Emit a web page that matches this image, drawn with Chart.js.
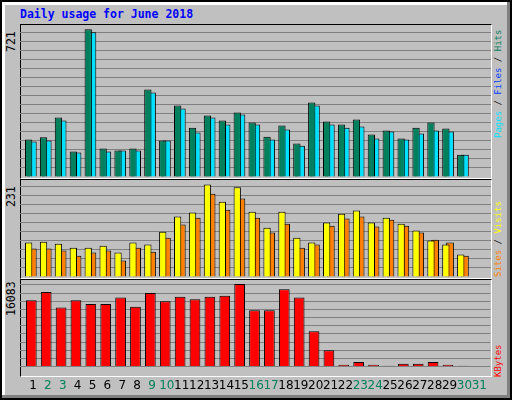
<!DOCTYPE html>
<html>
<head>
<meta charset="utf-8">
<script src="https://cdn.jsdelivr.net/npm/chart.js@4/dist/chart.umd.min.js"></script>
<style>
  body { margin: 0; background: #fff; }
  #frame {
    position: absolute; left: 0; top: 0; width: 508px; height: 396px;
    background: #c0c0c0; border: 2px solid #000;
    box-shadow: inset -3px -3px 0 #808080, inset 3px 3px 0 #fff;
  }
  .panel { position: absolute; left: 20px; width: 471px; }
  .plotbg { position: absolute; left: 20px; width: 470px; background: #c0c0c0;
    border-top: 1px solid #000; border-left: 1px solid #000;
    border-right: 1px solid #fff; border-bottom: 1px solid #fff; }
  .mono { font-family: "DejaVu Sans Mono", monospace; font-size: 11.5px; position: absolute; white-space: nowrap; }
  .side { font-size: 9px; left: 493px; }
  .rot { transform: rotate(-90deg); transform-origin: left top; }
  #title { left: 20px; top: 7px; color: #0000ff; font-weight: bold; }
</style>
</head>
<body>
<div id="frame"></div>
<div class="plotbg" style="top:24px;height:153px"></div>
<div class="plotbg" style="top:179px;height:98px"></div>
<div class="plotbg" style="top:279px;height:96px"></div>
<div id="title" class="mono">Daily usage for June 2018</div>

<div class="panel" style="top:25px;height:152px"><canvas id="c1"></canvas></div>
<div class="panel" style="top:180px;height:97px"><canvas id="c2"></canvas></div>
<div class="panel" style="top:280px;height:117px"><canvas id="c3"></canvas></div>

<div id="lab1" class="mono rot" style="left:4px;top:52px;color:#000"></div>
<div id="lab2" class="mono rot" style="left:4px;top:207px;color:#000"></div>
<div id="lab3" class="mono rot" style="left:4px;top:316px;color:#000"></div>

<div class="mono rot side" style="top:138px"><span style="color:#00e0ff">Pages</span> / <span style="color:#0040ff">Files</span> / <span style="color:#00805c">Hits</span></div>
<div class="mono rot side" style="top:277px"><span style="color:#ff8000">Sites</span> / <span style="color:#ffff00">Visits</span></div>
<div class="mono rot side" style="top:377px;color:#ff0000">KBytes</div>

<script>
const days = [1,2,3,4,5,6,7,8,9,10,11,12,13,14,15,16,17,18,19,20,21,22,23,24,25,26,27,28,29,30];
const dayLabels = ["1","2","3","4","5","6","7","8","9","10","11","12","13","14","15","16","17","18","19","20","21","22","23","24","25","26","27","28","29","30","31"];
const weekendDays = [2,3,9,10,16,17,23,24,30,31];

const hits = [183,194,290,124,721,139,129,139,427,178,349,241,300,276,315,266,197,251,163,364,271,256,281,207,227,188,241,266,237,109];
const files = [173,178,276,119,706,124,129,129,413,178,334,217,290,256,305,256,183,232,153,349,256,241,246,188,222,183,212,227,222,109];
const pages = [119,134,114,109,104,114,104,119,124,148,192,202,285,251,271,183,144,207,129,241,148,197,246,163,173,163,178,158,80,51];
const sites = [86,88,83,73,73,78,61,86,81,113,151,161,231,188,224,163,123,163,98,86,136,158,166,136,148,133,116,91,81,56];
const visits = [71,71,66,53,61,66,41,73,63,98,131,148,208,168,196,148,111,133,73,81,128,146,151,126,143,128,111,93,86,53];
const kbytes = [12900,14490,11486,12900,12192,12192,13430,11662,14313,12722,13606,13076,13606,13783,16083,10955,10955,15020,13430,6891,3181,353,884,353,177,530,530,884,353,177];

const X_MIN = 0.13, X_MAX = 31.74;

function xAxis(show) {
  return {
    type: "linear", min: X_MIN, max: X_MAX, display: show, offset: false,
    grid: { display: false }, border: { display: false },
    afterBuildTicks: (ax) => { ax.ticks = dayLabels.map((d, i) => ({ value: i + 1 })); },
    ticks: {
      padding: 4, autoSkip: false, maxRotation: 0, minRotation: 0,
      font: { family: "DejaVu Sans", size: 12 },
      color: (c) => weekendDays.includes(c.tick.value) ? "#00805c" : "#000",
      callback: (v) => dayLabels[v - 1]
    }
  };
}

function series(values, color, id, offset, width) {
  return {
    data: days.map((d, i) => ({ x: d + offset, y: values[i] })),
    backgroundColor: color, borderColor: "#000", borderWidth: 1,
    xAxisID: id, grouped: false, barPercentage: width, categoryPercentage: 1,
    borderSkipped: "bottom"
  };
}

function makeChart(el, datasets, ymax, step, showX) {
  const scales = {
    y: {
      min: 0, max: ymax,
      afterBuildTicks: (ax) => {
        const t = [];
        for (let v = 0; v <= ymax; v += step) t.push({ value: v });
        ax.ticks = t;
      },
      ticks: { display: false },
      grid: { color: "#808080", lineWidth: 1, drawTicks: false },
      border: { display: false }
    }
  };
  datasets.forEach((ds, i) => { scales[ds.xAxisID] = xAxis(showX && i === 0); });
  return new Chart(document.getElementById(el), {
    type: "bar",
    data: { datasets },
    options: {
      responsive: true, maintainAspectRatio: false, animation: false,
      layout: { padding: 0 },
      plugins: { legend: { display: false }, tooltip: { enabled: false } },
      scales
    }
  });
}

makeChart("c1", [
  series(hits, "#00805c", "xa", -0.29, 0.49),
  series(files, "#00e0ff", "xb", -0.01, 0.52),
  series(pages, "#0040ff", "xc", -0.34, 0.14)
], 742, 44, false);

makeChart("c2", [
  series(sites, "#ffff00", "xa", -0.29, 0.49),
  series(visits, "#ff8000", "xb", -0.01, 0.52)
], 242, 22.5, false);

makeChart("c3", [
  series(kbytes, "#ff0000", "xa", -0.11, 0.72)
], 16843, 1590, true);

document.getElementById("lab1").textContent = Math.max(...hits);
document.getElementById("lab2").textContent = Math.max(...sites);
document.getElementById("lab3").textContent = Math.max(...kbytes);
</script>
</body>
</html>
